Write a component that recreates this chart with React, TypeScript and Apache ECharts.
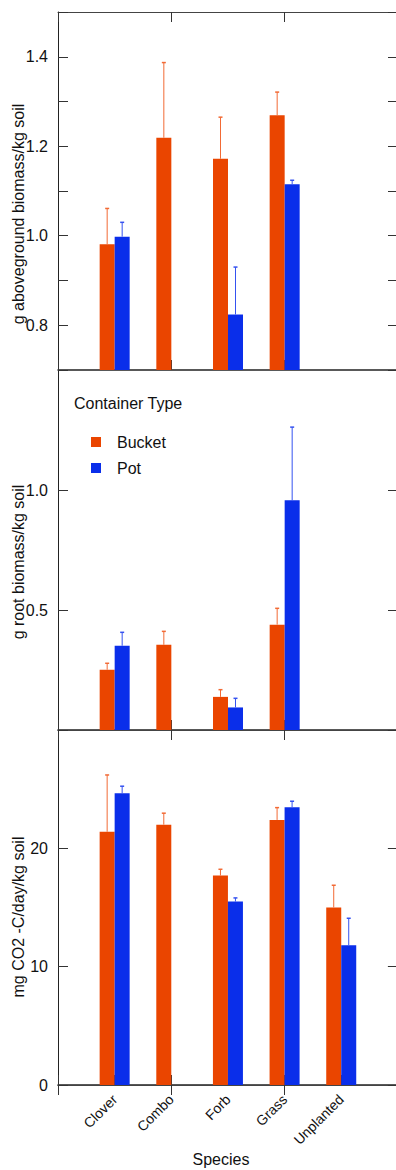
import React, { useEffect, useRef } from "react";
import * as echarts from "echarts";

const species = ["Clover", "Combo", "Forb", "Grass", "Unplanted"];
const containerTypes = ["Bucket", "Pot"];
const legendTitle = "Container Type";
const xTitle = "Species";

const aboveBucket = [0.981, 1.219, 1.172, 1.269, 0];
const aboveBucketSE = [0.08, 0.168, 0.093, 0.052, 0];
const abovePot = [0.998, 0, 0.824, 1.115, 0];
const abovePotSE = [0.032, 0, 0.106, 0.009, 0];

const rootBucket = [0.251, 0.355, 0.138, 0.439, 0];
const rootBucketSE = [0.027, 0.056, 0.03, 0.068, 0];
const rootPot = [0.351, 0, 0.094, 0.957, 0];
const rootPotSE = [0.056, 0, 0.038, 0.305, 0];

const co2Bucket = [21.4, 22.0, 17.7, 22.4, 15.0];
const co2BucketSE = [4.8, 0.97, 0.53, 1.04, 1.88];
const co2Pot = [24.66, 0, 15.5, 23.48, 11.82];
const co2PotSE = [0.59, 0, 0.31, 0.5, 2.27];

const yTitles = [
  "g aboveground biomass/kg soil",
  "g root biomass/kg soil",
  "mg CO2 -C/day/kg soil",
];

const ORANGE = "#EA4500";
const BLUE = "#0A2EEA";
const ORANGE_ERR = "#F26A35";
const BLUE_ERR = "#3552F0";
const AXIS = "#222";
const FONT = "Liberation Sans, Arial, sans-serif";
const BAR_W = 15;

export default function App() {
  const ref = useRef<HTMLDivElement>(null);

  useEffect(() => {
    if (!ref.current) return;
    const chart = echarts.init(ref.current, null, { renderer: "svg" });
    const cats = ["", ...species, ""];
    const pad = (a: number[]) => [null, ...a, null];

    const panels = [
      {
        top: 12, height: 358, min: 0.7, max: 1.5, interval: 0.1,
        fmt: (v: number) => {
          const t = Math.round(v * 10);
          return t % 2 === 0 && t >= 8 && t <= 14 ? v.toFixed(1) : "";
        },
        b: aboveBucket, bse: aboveBucketSE, p: abovePot, pse: abovePotSE,
        titleY: 214,
      },
      {
        top: 370, height: 360, min: 0, max: 1.5, interval: 0.5,
        fmt: (v: number) => (v > 0.01 && v < 1.4 ? v.toFixed(1) : ""),
        b: rootBucket, bse: rootBucketSE, p: rootPot, pse: rootPotSE,
        titleY: 562,
      },
      {
        top: 730, height: 355, min: 0, max: 30, interval: 10,
        fmt: (v: number) => (v < 29 ? String(v) : ""),
        b: co2Bucket, bse: co2BucketSE, p: co2Pot, pse: co2PotSE,
        titleY: 917,
      },
    ];

    const grid: any[] = [];
    const xAxis: any[] = [];
    const yAxis: any[] = [];
    const series: any[] = [];
    const graphic: any[] = [];

    const errSeries = (gi: number, vals: number[], ses: number[], offset: number, color: string, name: string) => ({
      type: "custom",
      name,
      xAxisIndex: gi * 2,
      yAxisIndex: gi * 2,
      z: 5,
      encode: { x: 0, y: 1 },
      data: vals.map((v, i) => [i + 1, v, ses[i]]),
      renderItem: (params: any, api: any) => {
        const se = api.value(2);
        if (!se) return null;
        const x = api.value(0);
        const v = api.value(1);
        const p0 = api.coord([x, v]);
        const p1 = api.coord([x, v + se]);
        const cx = p0[0] + offset;
        return {
          type: "group",
          children: [
            { type: "line", shape: { x1: cx, y1: p0[1], x2: cx, y2: p1[1] }, style: { stroke: color, lineWidth: 1 } },
            { type: "line", shape: { x1: cx - 2, y1: p1[1], x2: cx + 2, y2: p1[1] }, style: { stroke: color, lineWidth: 1.5 } },
          ],
        };
      },
    });

    panels.forEach((pn, gi) => {
      grid.push({ left: 58, width: 340, top: pn.top, height: pn.height, containLabel: false });
      const isLast = gi === panels.length - 1;
      xAxis.push({
        type: "category", gridIndex: gi, position: "bottom", data: cats, boundaryGap: false,
        axisLine: { show: true, lineStyle: { color: AXIS, width: 1.5 } },
        axisTick: { show: true, inside: true, length: 10, lineStyle: { color: "#333" } },
        axisLabel: isLast
          ? { show: true, rotate: 45, fontSize: 14, color: "#111", fontFamily: FONT, margin: 12, interval: 0 }
          : { show: false },
        splitLine: { show: false },
      });
      xAxis.push({
        type: "category", gridIndex: gi, position: "top", data: cats, boundaryGap: false,
        axisLine: { show: true, lineStyle: { color: "#444", width: 1 } },
        axisTick: { show: true, inside: true, length: 10, lineStyle: { color: "#333" } },
        axisLabel: { show: false },
        splitLine: { show: false },
      });
      yAxis.push({
        type: "value", gridIndex: gi, position: "left", min: pn.min, max: pn.max, interval: pn.interval,
        axisLine: { show: true, lineStyle: { color: AXIS, width: 1 } },
        axisTick: { show: true, inside: true, length: 10, lineStyle: { color: "#333" } },
        axisLabel: { show: true, formatter: pn.fmt, fontSize: 16, color: "#111", fontFamily: FONT, margin: 10 },
        splitLine: { show: false },
      });
      yAxis.push({
        type: "value", gridIndex: gi, position: "right", min: pn.min, max: pn.max, interval: pn.interval,
        axisLine: { show: true, lineStyle: { color: AXIS, width: 1 } },
        axisTick: { show: true, inside: true, length: 10, lineStyle: { color: "#333" } },
        axisLabel: { show: false },
        splitLine: { show: false },
      });
      series.push({
        type: "bar", name: containerTypes[0], xAxisIndex: gi * 2, yAxisIndex: gi * 2,
        data: pad(pn.b), barWidth: BAR_W, barGap: "0%",
        itemStyle: { color: ORANGE },
      });
      series.push({
        type: "bar", name: containerTypes[1], xAxisIndex: gi * 2, yAxisIndex: gi * 2,
        data: pad(pn.p), barWidth: BAR_W, barGap: "0%",
        itemStyle: { color: BLUE },
      });
      series.push(errSeries(gi, pn.b, pn.bse, -BAR_W / 2, ORANGE_ERR, "Bucket SE"));
      series.push(errSeries(gi, pn.p, pn.pse, BAR_W / 2, BLUE_ERR, "Pot SE"));
      graphic.push({
        type: "text", x: 18, y: pn.titleY, rotation: Math.PI / 2,
        style: { text: yTitles[gi], fontSize: 16, fontFamily: FONT, fill: "#111", align: "center", verticalAlign: "middle" },
      });
    });

    graphic.push({
      type: "text", x: 74, y: 403,
      style: { text: legendTitle, fontSize: 16, fontFamily: FONT, fill: "#111", align: "left", verticalAlign: "middle" },
    });
    graphic.push({
      type: "text", x: 221, y: 1159,
      style: { text: xTitle, fontSize: 16, fontFamily: FONT, fill: "#111", align: "center", verticalAlign: "middle" },
    });

    chart.setOption({
      animation: false,
      backgroundColor: "#fff",
      grid,
      xAxis,
      yAxis,
      series,
      graphic,
      legend: {
        data: containerTypes,
        orient: "vertical",
        left: 86,
        top: 429,
        itemWidth: 10,
        itemHeight: 10,
        itemGap: 10,
        icon: "rect",
        textStyle: { fontSize: 16, fontFamily: FONT, color: "#111", lineHeight: 16, padding: [0, 0, 0, 11] },
      },
    });
    return () => chart.dispose();
  }, []);

  return (
    <div style={{ position: "absolute", left: 0, top: 0, width: 396, height: 1170, overflow: "hidden", background: "#fff" }}>
      <div ref={ref} style={{ width: 400, height: 1170 }} />
    </div>
  );
}
